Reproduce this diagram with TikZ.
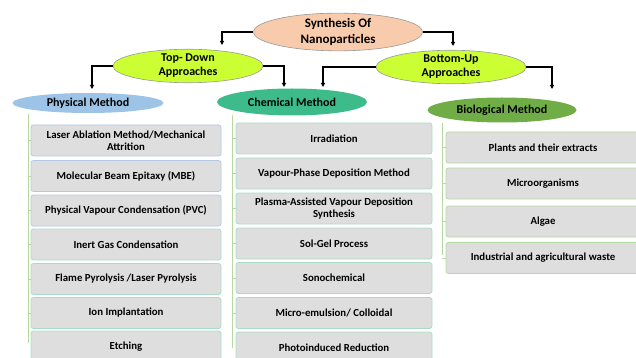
\documentclass[tikz,border=0pt]{standalone}
\usepackage{fontspec}
\setmainfont{Carlito}
\usetikzlibrary{shapes.geometric, arrows.meta}

\definecolor{peach}{HTML}{F8CBAD}
\definecolor{lime}{HTML}{CCFF33}
\definecolor{physblue}{HTML}{9DC3E6}
\definecolor{chemgreen}{HTML}{3DBB8A}
\definecolor{biogreen}{HTML}{70AD47}
\definecolor{boxgray}{HTML}{DEDEDE}
\definecolor{lineblue}{HTML}{B4C7E7}
\definecolor{linemint}{HTML}{A9DCC6}
\definecolor{linegreen}{HTML}{B5D9A0}

\tikzset{
  oval/.style={ellipse, draw=black!40, line width=0.6pt, inner sep=0pt, align=center, font=\bfseries},
  arr/.style={-{Triangle[length=4pt,width=4pt]}, line width=1.1pt},
  item/.style={rectangle, rounded corners=2.5pt, fill=boxgray, line width=0.8pt, minimum height=31pt, align=center, font=\bfseries\fontsize{10.8}{12.5}\selectfont},
  trunk/.style={draw=linegreen, line width=0.8pt}
}

\begin{document}
\begin{tikzpicture}[x=1pt, y=-1pt]
\useasboundingbox (0,0) rectangle (636,358);
\clip (0,0) rectangle (636,358);
% Root and the two approaches
\node[oval, fill=peach, minimum width=169pt, minimum height=37pt, font=\bfseries\fontsize{13}{15.5}\selectfont] (syn) at (338,32) {Synthesis Of\\Nanoparticles};
\node[oval, fill=lime, minimum width=150pt, minimum height=32pt, font=\bfseries\fontsize{12}{14}\selectfont] (td) at (188,66) {Top- Down\\Approaches};
\node[oval, fill=lime, minimum width=150pt, minimum height=30pt, font=\bfseries\fontsize{12}{14}\selectfont] (bu) at (451,67) {Bottom-Up\\Approaches};
% Method ellipses
\node[oval, draw=none, fill=physblue, minimum width=151pt, minimum height=20pt, font=\bfseries\fontsize{12}{13}\selectfont] (phys) at (88,103) {Physical Method};
\node[oval, draw=none, fill=chemgreen, minimum width=150pt, minimum height=27pt, font=\bfseries\fontsize{12}{13}\selectfont] (chem) at (292,102) {Chemical Method};
\node[oval, draw=none, fill=biogreen, minimum width=149pt, minimum height=25pt, font=\bfseries\fontsize{12}{13}\selectfont] (bio) at (502,110) {Biological Method};
% Arrow ends above the ellipses
\coordinate (tdin) at (222,45);
\coordinate (buin) at (453,46);
\coordinate (physin) at (92,89);
\coordinate (chemin) at (284,87);
\coordinate (chemin2) at (323,87);
\coordinate (bioin) at (552,89);
% Draw arrows
\draw[arr] (syn.west) -| (tdin);
\draw[arr] (syn.east) -| (buin);
\draw[arr] (td.west) -| (physin);
\draw[arr] (td.east) -| (chemin);
\draw[arr] (bu.west) -| (chemin2);
\draw[arr] (bu.east) -| (bioin);
% Physical list
\node[item, draw=lineblue, minimum width=190pt] (p1) at (126,140.5) {Laser Ablation Method/Mechanical\\Attrition};
\node[item, draw=lineblue, minimum width=190pt] (p2) at (126,176) {Molecular Beam Epitaxy (MBE)};
\node[item, draw=lineblue, minimum width=190pt] (p3) at (126,210.5) {Physical Vapour Condensation (PVC)};
\node[item, draw=linemint, minimum width=190pt] (p4) at (126,244.5) {Inert Gas Condensation};
\node[item, draw=linemint, minimum width=190pt] (p5) at (126,279) {Flame Pyrolysis /Laser Pyrolysis};
\node[item, draw=linemint, minimum width=190pt] (p6) at (126,313) {Ion Implantation};
\node[item, draw=linemint, minimum width=190pt] (p7) at (126,346.5) {Etching};
% Chemical list
\node[item, draw=linemint, minimum width=196pt] (c1) at (334,138.5) {Irradiation};
\node[item, draw=linemint, minimum width=196pt] (c2) at (334,173.5) {Vapour-Phase Deposition Method};
\node[item, draw=linemint, minimum width=196pt] (c3) at (334,208.5) {Plasma-Assisted Vapour Deposition\\Synthesis};
\node[item, draw=linemint, minimum width=196pt] (c4) at (334,243.5) {Sol-Gel Process};
\node[item, draw=linemint, minimum width=196pt] (c5) at (334,278) {Sonochemical};
\node[item, draw=linemint, minimum width=196pt] (c6) at (334,313) {Micro-emulsion/ Colloidal};
\node[item, draw=linemint, minimum width=196pt] (c7) at (334,347.5) {Photoinduced Reduction};
% Biological list
\node[item, draw=linegreen, minimum width=194pt] (b1) at (543,147.5) {Plants and their extracts};
\node[item, draw=linegreen, minimum width=194pt] (b2) at (543,183.5) {Microorganisms};
\node[item, draw=linegreen, minimum width=194pt] (b3) at (543,221.5) {Algae};
\node[item, draw=linegreen, minimum width=194pt] (b4) at (543,258) {Industrial and agricultural waste};
% Trunk lines
\coordinate (ptop) at (28,114);
\coordinate (pbot) at (28,343);
\coordinate (ctop) at (232,115);
\coordinate (cbot) at (232,348);
\coordinate (btop) at (442,123);
\coordinate (bbot) at (442,255);
\draw[trunk] (ptop) -- (pbot);
\draw[trunk] (ctop) -- (cbot);
\draw[trunk] (btop) -- (bbot);
% Short branches to the boxes
\draw[trunk] (p1.west) -- (p1.west -| ptop);
\draw[trunk] (p2.west) -- (p2.west -| ptop);
\draw[trunk] (p3.west) -- (p3.west -| ptop);
\draw[trunk] (p4.west) -- (p4.west -| ptop);
\draw[trunk] (p5.west) -- (p5.west -| ptop);
\draw[trunk] (p6.west) -- (p6.west -| ptop);
\draw[trunk] (c1.west) -- (c1.west -| ctop);
\draw[trunk] (c2.west) -- (c2.west -| ctop);
\draw[trunk] (c3.west) -- (c3.west -| ctop);
\draw[trunk] (c4.west) -- (c4.west -| ctop);
\draw[trunk] (c5.west) -- (c5.west -| ctop);
\draw[trunk] (c6.west) -- (c6.west -| ctop);
\draw[trunk] (b1.west) -- (b1.west -| btop);
\draw[trunk] (b2.west) -- (b2.west -| btop);
\draw[trunk] (b3.west) -- (b3.west -| btop);
\draw[trunk] (b4.west) -- (b4.west -| btop);
\end{tikzpicture}
\end{document}
